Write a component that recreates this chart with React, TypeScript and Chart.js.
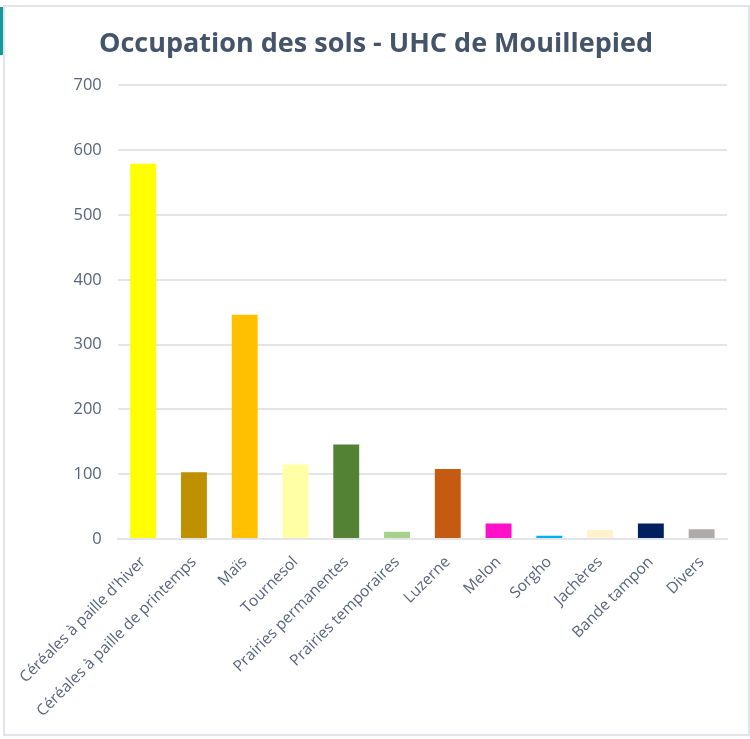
import React, { useEffect, useRef } from "react";
import { Chart, registerables } from "chart.js";

Chart.register(...registerables);

const categories = [
  "Céréales à paille d'hiver",
  "Céréales à paille de printemps",
  "Maïs",
  "Tournesol",
  "Prairies permanentes",
  "Prairies temporaires",
  "Luzerne",
  "Melon",
  "Sorgho",
  "Jachères",
  "Bande tampon",
  "Divers",
];
const surfaces = [579, 103, 346, 115, 146, 11, 108, 24, 5, 14, 24, 15];
const barColors = [
  "#FFFF00", "#BF9000", "#FFC000", "#FFFFA5", "#548235", "#A9D18E",
  "#C55A11", "#FF0FC8", "#00B0F0", "#FFF2CC", "#002060", "#AEAAAA",
];
const titleText = "Occupation des sols - UHC de Mouillepied";

export default function App() {
  const ref = useRef<HTMLCanvasElement>(null);
  useEffect(() => {
    const chart = new Chart(ref.current!, {
      type: "bar",
      data: {
        labels: categories,
        datasets: [{ data: surfaces, backgroundColor: barColors, barPercentage: 0.51, categoryPercentage: 1 }],
      },
      options: {
        responsive: false,
        animation: false,
        layout: { padding: { top: 8, right: 23, bottom: 0, left: 21 } },
        plugins: {
          legend: { display: false },
          tooltip: { enabled: false },
          title: {
            display: true,
            text: titleText,
            color: "#44546A",
            font: { family: "'Open Sans'", size: 27, weight: "bold" },
            padding: { top: 14, bottom: 25 },
          },
        },
        scales: {
          x: {
            grid: { display: false, drawTicks: false },
            border: { color: "#E1E5EA", width: 2 },
            ticks: {
              color: "#57647A",
              font: { family: "'Open Sans'", size: 15.5 },
              minRotation: 45,
              maxRotation: 45,
              autoSkip: false,
              padding: 14,
            },
            afterFit: (s: any) => { s.height = 196; },
          },
          y: {
            min: 0,
            max: 700,
            grid: { color: "#E1E5EA", lineWidth: 2, drawTicks: false },
            border: { display: false },
            ticks: {
              stepSize: 100,
              color: "#57647A",
              font: { family: "'Open Sans'", size: 16.5 },
              padding: 16,
            },
            afterFit: (s: any) => { s.width = 91; },
          },
        },
      },
    });
    return () => chart.destroy();
  }, []);
  return (
    <div style={{ position: "absolute", left: 0, top: 0, width: 750, height: 739, background: "#fff", overflow: "hidden" }}>
      <canvas ref={ref} width={746} height={729} style={{ position: "absolute", left: 4, top: 6, display: "block" }} />
      <div style={{ position: "absolute", left: 3, top: 5, width: 743, height: 727, border: "2px solid #E1E5EA", pointerEvents: "none" }} />
      <div style={{ position: "absolute", left: 0, top: 7, width: 3, height: 48, background: "#159A9C" }} />
    </div>
  );
}
